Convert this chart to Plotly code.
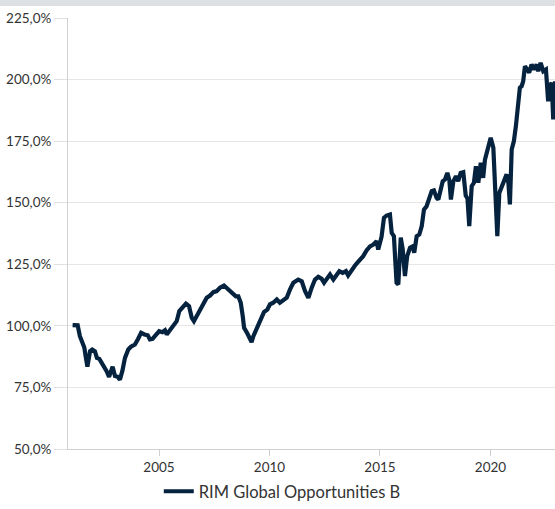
import plotly.graph_objects as go

series_name = "RIM Global Opportunities B"

years = [
    2001.09, 2001.32, 2001.42, 2001.53, 2001.62, 2001.68, 2001.76, 2001.88, 2001.98, 2002.10,
    2002.19, 2002.30, 2002.41, 2002.51, 2002.63, 2002.74, 2002.81, 2002.90, 2003.01, 2003.13,
    2003.23, 2003.34, 2003.46, 2003.61, 2003.73, 2003.91, 2004.04, 2004.19, 2004.34, 2004.49,
    2004.59, 2004.71, 2004.85, 2005.01, 2005.15, 2005.27, 2005.35, 2005.45, 2005.57, 2005.69,
    2005.80, 2005.92, 2006.07, 2006.22, 2006.36, 2006.48, 2006.58, 2006.70, 2006.85, 2007.00,
    2007.16, 2007.31, 2007.46, 2007.61, 2007.76, 2007.94, 2008.06, 2008.21, 2008.36, 2008.48,
    2008.59, 2008.70, 2008.79, 2008.85, 2009.00, 2009.12, 2009.19, 2009.27, 2009.39, 2009.49,
    2009.60, 2009.75, 2009.90, 2010.02, 2010.17, 2010.33, 2010.47, 2010.78, 2010.93, 2011.08,
    2011.30, 2011.46, 2011.61, 2011.76, 2011.91, 2012.06, 2012.21, 2012.36, 2012.47, 2012.62,
    2012.74, 2012.89, 2013.01, 2013.16, 2013.31, 2013.46, 2013.56, 2013.72, 2013.87, 2013.97,
    2014.09, 2014.24, 2014.40, 2014.55, 2014.70, 2014.85, 2014.92, 2015.07, 2015.18, 2015.30,
    2015.45, 2015.53, 2015.63, 2015.75, 2015.83, 2015.94, 2016.03, 2016.13, 2016.23, 2016.36,
    2016.48, 2016.55, 2016.66, 2016.78, 2016.89, 2016.99, 2017.11, 2017.23, 2017.34, 2017.44,
    2017.56, 2017.64, 2017.75, 2017.84, 2017.94, 2018.05, 2018.14, 2018.21, 2018.32, 2018.44,
    2018.54, 2018.65, 2018.77, 2018.88, 2018.96, 2019.04, 2019.15, 2019.25, 2019.34, 2019.45,
    2019.56, 2019.67, 2019.75, 2019.85, 2020.01, 2020.13, 2020.22, 2020.31, 2020.40, 2020.51,
    2020.61, 2020.73, 2020.81, 2020.88, 2020.96, 2021.06, 2021.15, 2021.26, 2021.33, 2021.41,
    2021.48, 2021.56, 2021.66, 2021.75, 2021.86, 2021.97, 2022.09, 2022.16, 2022.27, 2022.39,
    2022.51, 2022.61, 2022.69, 2022.77, 2022.84, 2022.92,
]

values = [
    100.3, 100.2, 95.8, 93.1, 91.2, 87.7, 83.4, 89.7, 90.4, 89.7,
    87.0, 86.6, 85.0, 83.0, 81.6, 79.3, 80.9, 83.4, 79.6, 79.3,
    78.2, 81.6, 87.0, 90.4, 91.5, 92.4, 94.5, 97.2, 96.5, 96.2,
    94.5, 94.7, 96.2, 97.8, 97.4, 98.2, 96.5, 97.8, 99.2, 100.8,
    101.9, 106.0, 107.7, 109.0, 108.0, 103.3, 101.9, 103.9, 106.6, 108.7,
    111.4, 112.3, 113.7, 114.1, 115.5, 116.4, 115.5, 114.1, 113.1, 112.0,
    112.0, 109.4, 103.9, 99.2, 96.9, 94.5, 93.4, 95.8, 98.5, 99.9,
    103.3, 105.6, 106.6, 108.7, 109.4, 110.7, 109.4, 111.4, 114.8, 117.5,
    118.8, 118.1, 114.1, 111.4, 115.5, 118.8, 119.9, 119.1, 117.5, 119.5,
    120.9, 118.8, 120.5, 122.2, 121.5, 122.2, 120.5, 122.9, 124.5, 125.6,
    126.9, 128.3, 130.7, 132.3, 133.0, 134.4, 131.0, 136.1, 143.9, 144.8,
    145.2, 137.8, 136.4, 117.5, 116.8, 135.8, 131.0, 120.2, 128.3, 131.7,
    132.3, 129.7, 136.4, 137.1, 140.5, 147.2, 148.6, 152.6, 154.7, 155.0,
    152.0, 151.3, 155.4, 158.7, 159.4, 162.1, 159.1, 151.3, 158.7, 160.8,
    158.7, 162.1, 162.4, 152.9, 151.7, 140.5, 156.7, 158.1, 164.8, 158.1,
    166.2, 160.1, 167.5, 170.9, 176.4, 172.3, 158.1, 136.4, 154.0, 156.7,
    158.1, 161.5, 158.1, 149.3, 171.6, 175.0, 181.1, 190.6, 196.7, 197.3,
    199.3, 205.4, 203.8, 202.8, 206.1, 204.1, 206.1, 203.4, 206.8, 203.4,
    204.1, 191.2, 197.3, 198.7, 183.8, 199.3,
]

y_ticks = [50, 75, 100, 125, 150, 175, 200, 225]
y_tick_labels = ["50,0%", "75,0%", "100,0%", "125,0%", "150,0%", "175,0%", "200,0%", "225,0%"]
x_ticks = [2005, 2010, 2015, 2020]
x_tick_labels = ["2005", "2010", "2015", "2020"]

FONT = "Lato, Inter, 'Open Sans', sans-serif"
TEXT = "#333333"
LINE = "#05223f"

fig = go.Figure()
fig.add_trace(go.Scatter(
    x=years, y=values, mode="lines", name=series_name,
    line=dict(color=LINE, width=4.2), showlegend=True,
))

fig.update_layout(
    width=555, height=509,
    margin=dict(l=68, r=0, t=18, b=60),
    paper_bgcolor="white", plot_bgcolor="white",
    font=dict(family=FONT, size=13, color=TEXT),
    showlegend=True,
    legend=dict(orientation="h", x=0.44, xanchor="center", y=-60/431, yanchor="bottom",
                font=dict(size=16.5, color=TEXT), itemwidth=30),
    xaxis=dict(
        range=[2000.882, 2022.92], tickvals=x_ticks, ticktext=x_tick_labels,
        showgrid=False, showline=True, linecolor="#d0d0d0", linewidth=1,
        ticks="outside", ticklen=6, tickcolor="#d0d0d0", zeroline=False,
        tickfont=dict(size=13.5, color=TEXT),
    ),
    yaxis=dict(
        range=[50, 225], tickvals=y_ticks, ticktext=y_tick_labels,
        showgrid=True, gridcolor="#e6e6e6", gridwidth=1,
        showline=True, linecolor="#d0d0d0", linewidth=1,
        ticks="outside", ticklen=13, tickcolor="#e0e0e0", zeroline=False,
        tickfont=dict(size=13.5, color=TEXT),
    ),
    annotations=[dict(
        xref="paper", yref="paper", x=(277.5 - 68) / 487, y=1 + 15 / 431,
        xanchor="center", yanchor="middle", text=" ", showarrow=False,
        width=560, height=6, bgcolor="#dde1e4", borderpad=0, borderwidth=0,
        font=dict(size=1, color="#dde1e4"),
    )],
)

fig.write_html("out.html", config={"displayModeBar": False},
               post_script="document.body.style.margin='0px';")
